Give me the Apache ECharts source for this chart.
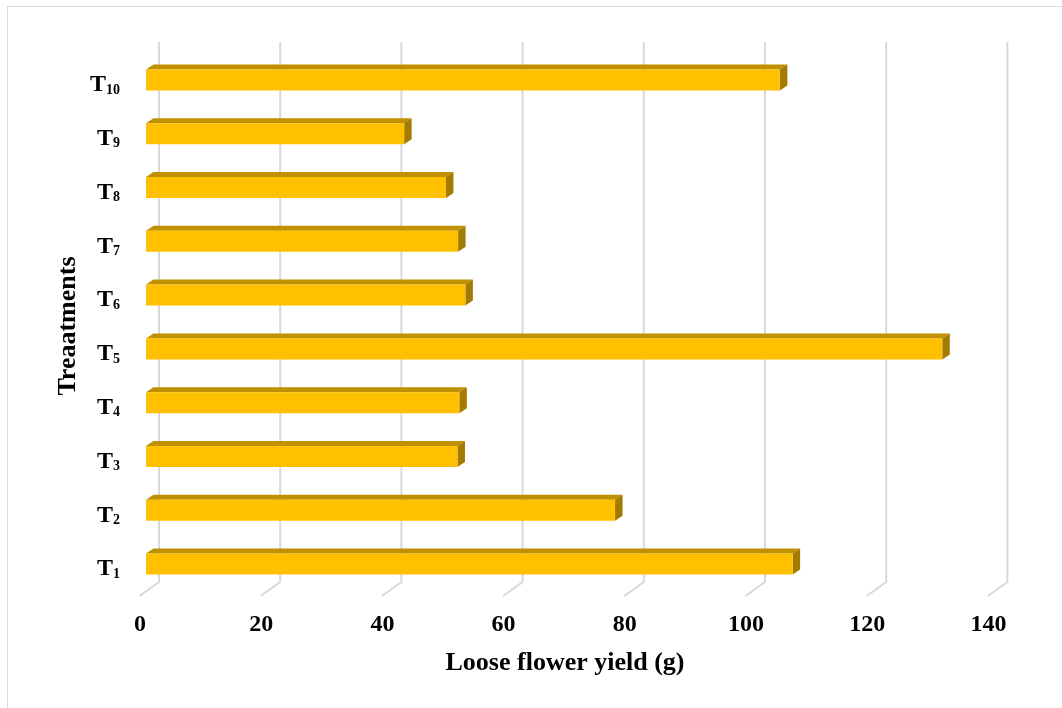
<!DOCTYPE html>
<html>
<head>
<meta charset="utf-8">
<style>
  html, body { margin: 0; padding: 0; background: #ffffff; }
  #chart { width: 1062px; height: 708px; }
</style>
<script src="https://cdn.jsdelivr.net/npm/echarts@6/dist/echarts.min.js"></script>
</head>
<body>
<div id="chart"></div>
<script>
// Treatments (bottom to top) and their loose flower yield in grams
const treatments = ['T1', 'T2', 'T3', 'T4', 'T5', 'T6', 'T7', 'T8', 'T9', 'T10'];
const yieldValues = [106.7, 77.4, 51.4, 51.7, 131.4, 52.7, 51.5, 49.5, 42.6, 104.6];
const xTicks = [0, 20, 40, 60, 80, 100, 120, 140];

const FONT = "'Liberation Serif', 'Times New Roman', serif";

// Pseudo-3D geometry (pixels)
const BAR_SHIFT_X = 6;      // bar front face offset from the front plane
const BAR_SHIFT_Y = -5;
const BAR_H = 21;           // front face height
const DEPTH_DX = 7.5;       // bar depth projection
const DEPTH_DY = -5;
const WALL_DX = 19;         // back wall offset for gridlines
const WALL_DY = -14;
const GRID_TOP_Y = 42;

const chart = echarts.init(document.getElementById('chart'), null, { renderer: 'canvas' });

function catLabel(name) {
  return '{t|T}{s|' + name.slice(1) + '}';
}

const option = {
  backgroundColor: '#ffffff',
  animation: false,
  grid: { left: 140, right: 73.6, top: 58, bottom: 112, containLabel: false },
  xAxis: {
    type: 'value',
    min: 0,
    max: 140,
    interval: 20,
    axisLine: { show: false },
    axisTick: { show: false },
    splitLine: { show: false },
    axisLabel: {
      margin: 17,
      fontFamily: FONT,
      fontWeight: 'bold',
      fontSize: 24,
      color: '#000000'
    }
  },
  yAxis: {
    type: 'category',
    data: treatments,
    axisLine: { show: false },
    axisTick: { show: false },
    splitLine: { show: false },
    axisLabel: {
      margin: 20,
      formatter: catLabel,
      rich: {
        t: { fontFamily: FONT, fontWeight: 'bold', fontSize: 24, color: '#000000', verticalAlign: 'bottom' },
        s: { fontFamily: FONT, fontWeight: 'bold', fontSize: 14, color: '#000000', verticalAlign: 'bottom' }
      }
    }
  },
  graphic: [
    {
      type: 'rect',
      shape: { x: 7.5, y: 6.5, width: 1100, height: 800 },
      style: { fill: 'none', stroke: '#d9d9d9', lineWidth: 1 },
      silent: true, z: -10
    },
    {
      type: 'text',
      x: 565, y: 663,
      style: {
        text: 'Loose flower yield (g)',
        fontFamily: FONT, fontWeight: 'bold', fontSize: 26,
        fill: '#000000', align: 'center', verticalAlign: 'middle'
      }
    },
    {
      type: 'text',
      x: 68, y: 326,
      rotation: Math.PI / 2,
      style: {
        text: 'Treaatments',
        fontFamily: FONT, fontWeight: 'bold', fontSize: 26,
        fill: '#000000', align: 'center', verticalAlign: 'middle'
      }
    }
  ],
  series: [
    {
      // back-wall gridlines bending onto the floor
      type: 'custom',
      silent: true,
      data: xTicks.map(function (v) { return [v, 0]; }),
      encode: { x: 0, y: 1 },
      renderItem: function (params, api) {
        const p = api.coord([api.value(0), 0]);
        const cs = params.coordSys;
        const floorY = cs.y + cs.height;
        const xb = p[0] + WALL_DX;
        return {
          type: 'polyline',
          shape: { points: [[xb, GRID_TOP_Y], [xb, floorY + WALL_DY], [p[0] - 0.5, floorY]] },
          style: { stroke: '#d9d9d9', lineWidth: 2, fill: 'none' }
        };
      }
    },
    {
      type: 'custom',
      data: yieldValues.map(function (v, i) { return [v, i]; }),
      encode: { x: 0, y: 1 },
      renderItem: function (params, api) {
        const v = api.value(0);
        const c = api.value(1);
        const p0 = api.coord([0, c]);
        const p1 = api.coord([v, c]);
        const x0 = p0[0] + BAR_SHIFT_X;
        const x1 = p1[0] + BAR_SHIFT_X;
        const yc = p0[1] + BAR_SHIFT_Y;
        const top = yc - BAR_H / 2;
        const bottom = yc + BAR_H / 2;
        return {
          type: 'group',
          children: [
            {
              type: 'polygon',
              shape: { points: [[x0, top], [x1, top], [x1 + DEPTH_DX, top + DEPTH_DY], [x0 + DEPTH_DX, top + DEPTH_DY]] },
              style: { fill: '#bf9000' }
            },
            {
              type: 'polygon',
              shape: { points: [[x1, top], [x1 + DEPTH_DX, top + DEPTH_DY], [x1 + DEPTH_DX, bottom + DEPTH_DY], [x1, bottom]] },
              style: { fill: '#a37b00' }
            },
            {
              type: 'rect',
              shape: { x: x0, y: top, width: x1 - x0, height: BAR_H },
              style: { fill: '#ffc000' }
            }
          ]
        };
      }
    }
  ]
};

chart.setOption(option);
</script>
</body>
</html>
